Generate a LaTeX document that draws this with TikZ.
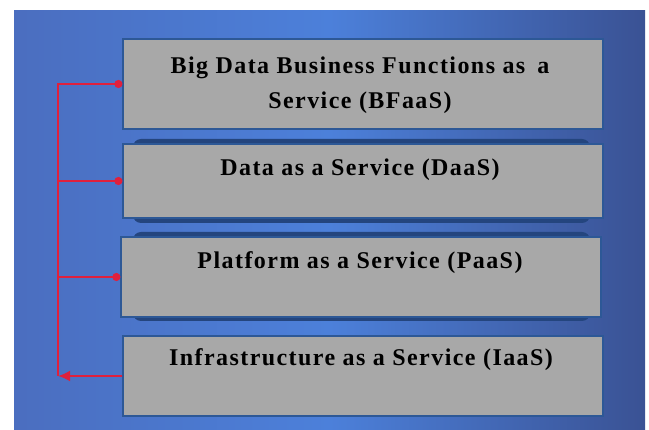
\documentclass[tikz,border=0pt]{standalone}
\usepackage{fontspec}
\setmainfont{Liberation Serif}
\usetikzlibrary{arrows.meta}
\definecolor{bgA}{HTML}{4A66B4}
\definecolor{bgB}{HTML}{4C80DA}
\definecolor{bgC}{HTML}{3A5294}
\definecolor{boxgray}{HTML}{A8A8A8}
\definecolor{boxedge}{HTML}{2D5896}
\definecolor{shadowblue}{HTML}{24457E}
\definecolor{linkred}{HTML}{E0203C}
\tikzset{
  layer/.style={draw=boxedge, line width=1.2pt, fill=boxgray, minimum width=480pt, inner sep=0pt},
  label/.style={font=\fontsize{24}{35}\selectfont\bfseries\addfontfeature{LetterSpace=6}, align=center, text=black},
  link/.style={draw=linkred, line width=2.6pt},
}
\begin{document}
\begin{tikzpicture}[x=1pt,y=-1pt]
\useasboundingbox (0,0) rectangle (649,430);
\fill[white] (0,0) rectangle (649,430);
\shade[left color=bgA!70!bgB, right color=bgC, middle color=bgB] (14,11) rectangle (645,430);
% shadows
\fill[shadowblue, rounded corners=8pt] (133,139) rectangle (590,223);
\fill[shadowblue, rounded corners=8pt] (133,232) rectangle (590,321);
% boxes
\node[layer, minimum height=90pt] (b1) at (363,84) {};
\node[layer, minimum height=74pt] (b2) at (363,181) {};
\node[layer, minimum height=80pt] (b3) at (361,277) {};
\node[layer, minimum height=80pt] (b4) at (363,376) {};
% texts
\node[label] (t1) at (360,85) {Big Data Business Functions as\enspace a\\Service (BFaaS)};
\node[label] (t2) at (360,170) {Data as a Service (DaaS)};
\node[label] (t3) at (360,263) {Platform as a Service (PaaS)};
\node[label] (t4) at (361,360) {Infrastructure as a Service (IaaS)};
% connectors
\coordinate (c4) at (58,376);
\draw[link, -{Latex[length=12pt,width=11pt]}] (b4.west) -- (c4);
\draw[link, -{Circle[length=8pt]}] (c4) |- (b1.west);
\draw[link, -{Circle[length=8pt]}] (c4 |- b2.west) -- (b2.west);
\draw[link, -{Circle[length=8pt]}] (c4 |- b3.west) -- (b3.west);
\end{tikzpicture}
\end{document}
